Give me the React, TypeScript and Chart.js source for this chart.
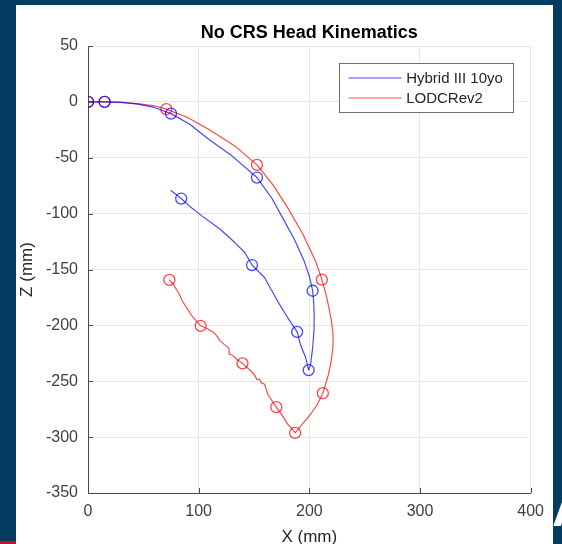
import React, { useEffect, useRef } from "react";
import { Chart, registerables } from "chart.js";

Chart.register(...registerables);

type Pt = [number, number];

// ---- chart text ----
const chartTitle = "No CRS Head Kinematics";
const xLabel = "X (mm)";
const zLabel = "Z (mm)";
const seriesNames = ["Hybrid III 10yo", "LODCRev2"];

// ---- axis ticks ----
const xTicks = [0, 100, 200, 300, 400];
const zTicks = [50, 0, -50, -100, -150, -200, -250, -300, -350];

// ---- head trajectory, Hybrid III 10yo (x, z in mm) ----
const hybridPath: Pt[] = [
  [0, 0], [15, 0], [30, -0.5], [45, -2], [60, -5], [75, -10.5], [92, -20],
  [109, -33.4], [130, -48.3], [152.7, -67.7], [166, -86], [177.4, -106.5],
  [187, -124], [195.3, -142.3], [200, -156], [203, -169], [204, -180], [204.4, -192],
  [204.2, -205], [203, -220], [201.2, -234.7], [199.4, -240], [196.7, -228.8],
  [192.3, -218.3], [189, -205.8], [180.4, -193], [172.9, -181], [167, -170.6],
  [159.5, -157.2], [148.2, -146], [141.7, -134.8], [132.7, -125.9], [119.4, -114],
  [103, -102], [92.6, -94], [84.2, -86.5], [74.7, -79],
];
const hybridMarkers: Pt[] = [
  [0, 0], [15, 0], [75, -10.5], [152.7, -67.7], [203, -169], [199.4, -240],
  [189, -205.8], [148.2, -146], [84.2, -86.5],
];

// ---- head trajectory, LODCRev2 (x, z in mm) ----
const lodcPath: Pt[] = [
  [0, 0], [15, 0], [30, -0.5], [45, -1.5], [60, -3.5], [70.8, -6.5], [90, -14],
  [109, -24.5], [132.7, -39.4], [152.7, -56.4], [167, -74], [180.4, -94.6],
  [194, -118], [205.6, -142.3], [211.3, -159], [215, -172], [217.9, -185],
  [220, -196], [221.3, -207], [221.5, -216], [220.6, -226], [219, -236],
  [217, -245], [212.2, -260.7], [207, -271], [201.2, -279.5], [194, -288],
  [187.2, -296.2],
  [184, -292], [180.4, -288.4], [175.9, -281], [170.2, -273.2], [166, -267],
  [162.5, -261.6], [159.5, -252.6], [156.5, -251.5], [155, -248], [152.5, -248.5],
  [151, -245], [148, -241.5], [144, -238], [139.6, -234], [135, -231], [131, -227],
  [128.3, -225.8], [127.5, -221], [126.8, -219.9], [123, -217], [119.4, -213.9],
  [116, -209], [113.4, -206.4], [108, -203], [101.8, -200.4], [97, -195],
  [94, -191.5], [89, -184], [85.1, -178], [82, -171], [80.6, -169], [77, -163],
  [73.5, -159.3],
];
const lodcMarkers: Pt[] = [
  [0, 0], [15, 0], [70.8, -6.5], [152.7, -56.4], [211.3, -159], [212.2, -260.7],
  [187.2, -296.2], [170.2, -273.2], [139.6, -234], [101.8, -200.4], [73.5, -159.3],
];

const BLUE = "rgba(0, 0, 255, 0.72)";
const RED = "rgba(255, 0, 0, 0.72)";
const FONT = '"Liberation Sans", Arial, Helvetica, sans-serif';
const AXIS = "#4a4a4a";

const toXY = (pts: Pt[]) => pts.map(([x, y]) => ({ x, y }));

// Title, boxed legend and inward tick marks
const decorations = {
  id: "decorations",
  afterDraw(chart: any) {
    const { ctx, chartArea, scales } = chart;
    ctx.save();

    // inward ticks
    ctx.strokeStyle = AXIS;
    ctx.lineWidth = 1;
    ctx.beginPath();
    for (const v of xTicks) {
      const px = Math.round(scales.x.getPixelForValue(v)) + 0.5;
      ctx.moveTo(px, chartArea.bottom);
      ctx.lineTo(px, chartArea.bottom - 5);
    }
    for (const v of zTicks) {
      const py = Math.round(scales.y.getPixelForValue(v)) + 0.5;
      ctx.moveTo(chartArea.left, py);
      ctx.lineTo(chartArea.left + 5, py);
    }
    ctx.stroke();

    // title
    ctx.fillStyle = "#000";
    ctx.font = `bold 18px ${FONT}`;
    ctx.textAlign = "center";
    ctx.textBaseline = "alphabetic";
    ctx.fillText(chartTitle, (chartArea.left + chartArea.right) / 2, 33);

    // legend
    const items = chart.data.datasets.filter((d: any) => d.showInLegend);
    const bx = chartArea.right - 192;
    const by = chartArea.top + 16.5;
    const bw = 174;
    const bh = 49;
    ctx.fillStyle = "#fff";
    ctx.fillRect(bx, by, bw, bh);
    ctx.strokeStyle = "#6e6e6e";
    ctx.lineWidth = 1;
    ctx.strokeRect(Math.round(bx) + 0.5, Math.round(by) + 0.5, bw, bh);
    ctx.font = `15px ${FONT}`;
    ctx.textAlign = "left";
    items.forEach((d: any, i: number) => {
      const ry = by + 15.5 + i * 20;
      ctx.strokeStyle = d.borderColor;
      ctx.lineWidth = 1.2;
      ctx.beginPath();
      ctx.moveTo(bx + 10, ry);
      ctx.lineTo(bx + 63, ry);
      ctx.stroke();
      ctx.fillStyle = "#262626";
      ctx.fillText(d.label, bx + 67.5, ry + 5.4);
    });
    ctx.restore();
  },
};

function HeadKinematicsChart() {
  const ref = useRef<HTMLCanvasElement | null>(null);

  useEffect(() => {
    if (!ref.current) return;
    const lineSet = (label: string, pts: Pt[], color: string, order: number) => ({
      label,
      data: toXY(pts),
      showLine: true,
      borderColor: color,
      borderWidth: 1.2,
      borderJoinStyle: "round",
      pointRadius: 0,
      fill: false,
      tension: 0,
      showInLegend: true,
      order,
    });
    const markerSet = (label: string, pts: Pt[], color: string, order: number) => ({
      label,
      data: toXY(pts),
      showLine: false,
      borderColor: color,
      backgroundColor: "rgba(0,0,0,0)",
      pointRadius: 5.5,
      pointBorderWidth: 1.3,
      pointStyle: "circle",
      showInLegend: false,
      order,
    });

    const tickFont = { family: FONT, size: 16 };
    const chart = new Chart(ref.current, {
      type: "scatter",
      data: {
        datasets: [
          lineSet(seriesNames[0], hybridPath, BLUE, 1),
          lineSet(seriesNames[1], lodcPath, RED, 2),
          markerSet(seriesNames[0], hybridMarkers, BLUE, 0),
          markerSet(seriesNames[1], lodcMarkers, RED, 1.5),
        ] as any,
      },
      options: {
        animation: false,
        responsive: false,
        devicePixelRatio: 1,
        layout: { padding: { left: 0, right: 17, top: 41, bottom: 0 } },
        plugins: {
          legend: { display: false },
          title: { display: false },
          tooltip: { enabled: false },
        },
        scales: {
          x: {
            type: "linear",
            min: 0,
            max: 400,
            afterBuildTicks: (s: any) => {
              s.ticks = xTicks.map((value) => ({ value }));
            },
            afterFit: (s: any) => {
              s.height = 51;
            },
            grid: { color: "#e6e6e6", drawTicks: false, lineWidth: 1 },
            border: { color: AXIS, width: 1 },
            ticks: { padding: 9, color: "#404040", font: tickFont, maxRotation: 0 },
            title: {
              display: true,
              text: xLabel,
              color: "#262626",
              font: { family: FONT, size: 17, lineHeight: "14px" },
              padding: { top: 0, bottom: 0 },
            },
          },
          y: {
            type: "linear",
            min: -350,
            max: 50,
            afterBuildTicks: (s: any) => {
              s.ticks = zTicks.map((value) => ({ value }));
            },
            afterFit: (s: any) => {
              s.width = 72;
            },
            grid: { color: "#e6e6e6", drawTicks: false, lineWidth: 1 },
            border: { color: AXIS, width: 1 },
            ticks: { padding: 10, color: "#404040", font: tickFont },
            title: {
              display: true,
              text: zLabel,
              color: "#262626",
              font: { family: FONT, size: 17, lineHeight: "14px" },
              padding: { top: 4, bottom: 0 },
            },
          },
        },
      } as any,
      plugins: [decorations],
    });
    return () => chart.destroy();
  }, []);

  return <canvas ref={ref} width={537} height={539} style={{ display: "block" }} />;
}

export default function App() {
  return (
    <div
      style={{
        position: "fixed",
        left: 0,
        top: 0,
        width: 562,
        height: 544,
        background: "#043b60",
        overflow: "hidden",
      }}
    >
      <div
        style={{
          position: "absolute",
          left: 16,
          top: 5,
          width: 537,
          height: 539,
          background: "#fff",
        }}
      >
        <HeadKinematicsChart />
      </div>
      <div
        style={{
          position: "absolute",
          left: 0,
          top: 541,
          width: 16,
          height: 3,
          background: "#c8102e",
        }}
      />
      <div
        style={{
          position: "absolute",
          left: 552,
          top: 478,
          color: "#fff",
          font: `bold 52px ${FONT}`,
          lineHeight: "60px",
        }}
      >
        A
      </div>
    </div>
  );
}
